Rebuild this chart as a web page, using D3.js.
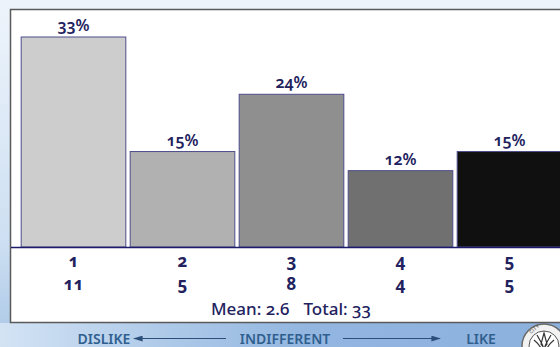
<!DOCTYPE html>
<html>
<head>
<meta charset="utf-8">
<script src="https://cdn.jsdelivr.net/npm/d3@7"></script>
<style>
  html, body { margin: 0; padding: 0; background: #ffffff; }
  svg { display: block; }
  .num { font-family: "Noto Sans", "Open Sans", sans-serif; font-variant-numeric: oldstyle-nums; font-feature-settings: "onum" 1; }
</style>
</head>
<body>
<svg id="chart" width="560" height="347"></svg>
<script>
// Survey ratings, 1 = dislike ... 5 = like
const categories = ["1", "2", "3", "4", "5"];
const counts = [11, 5, 8, 4, 5];
const percents = [33, 15, 24, 12, 15];
const barColors = ["#cdcdcd", "#b1b1b1", "#8f8f8f", "#707070", "#101010"];
const meanText = "Mean: 2.6";
const totalText = "Total: 33";
const scaleLabels = ["DISLIKE", "INDIFFERENT", "LIKE"];

const svg = d3.select("#chart");
const W = 560, H = 347;
const navy = "#22225e";

const defs = svg.append("defs");

// page background: pale sky at the top deepening to blue at the bottom
const bg = defs.append("linearGradient").attr("id", "bg")
  .attr("x1", 0).attr("y1", 0).attr("x2", 0).attr("y2", 1);
bg.append("stop").attr("offset", "0%").attr("stop-color", "#eef4fb");
bg.append("stop").attr("offset", "70%").attr("stop-color", "#cddff2");
bg.append("stop").attr("offset", "100%").attr("stop-color", "#a9c6e6");
svg.append("rect").attr("width", W).attr("height", H).attr("fill", "url(#bg)");

// footer band
const band = defs.append("linearGradient").attr("id", "band")
  .attr("x1", 0).attr("y1", 0).attr("x2", 1).attr("y2", 0);
band.append("stop").attr("offset", "0%").attr("stop-color", "#d3e3f4");
band.append("stop").attr("offset", "25%").attr("stop-color", "#b3cdea");
band.append("stop").attr("offset", "55%").attr("stop-color", "#92b6e0");
band.append("stop").attr("offset", "100%").attr("stop-color", "#8cb1dd");
svg.append("rect").attr("x", 0).attr("y", 323).attr("width", W).attr("height", H - 323)
  .attr("fill", "url(#band)");

// white panel holding the chart
svg.append("rect")
  .attr("x", 10.5).attr("y", 9.5).attr("width", W).attr("height", 313)
  .attr("fill", "#ffffff").attr("stroke", "#5a5a5a").attr("stroke-width", 1.5);

// scales
const x = d3.scaleBand().domain(categories).range([19, 564]).paddingInner(0.04).paddingOuter(0.02);
const baseY = 247;
const y = d3.scaleLinear().domain([0, 33]).range([baseY, 37]);

// bars
svg.append("g").selectAll("rect").data(categories).join("rect")
  .attr("x", d => x(d))
  .attr("y", (d, i) => y(percents[i]))
  .attr("width", x.bandwidth())
  .attr("height", (d, i) => baseY - y(percents[i]))
  .attr("fill", (d, i) => barColors[i])
  .attr("stroke", "#4d4d8c").attr("stroke-width", 1);

// value labels above bars
svg.append("g").selectAll("text").data(categories).join("text")
  .attr("class", "num")
  .attr("x", d => x(d) + x.bandwidth() / 2)
  .attr("y", (d, i) => y(percents[i]) - 6)
  .attr("text-anchor", "middle")
  .attr("font-size", 16).attr("font-weight", 600).attr("fill", navy)
  .text((d, i) => percents[i] + "%");

// baseline
svg.append("line").attr("x1", 11).attr("x2", W).attr("y1", baseY + 0.5).attr("y2", baseY + 0.5)
  .attr("stroke", "#1c1c6a").attr("stroke-width", 1.6);

// category and count rows
const xAxis = d3.axisBottom(x).tickSize(0).tickPadding(8);
const ax = svg.append("g").attr("transform", `translate(0,${baseY})`).call(xAxis);
ax.select(".domain").remove();
ax.selectAll("text").attr("class", "num").attr("font-size", 17).attr("fill", navy)
  .attr("font-weight", "bold");

svg.append("g").selectAll("text").data(categories).join("text")
  .attr("class", "num")
  .attr("x", d => x(d) + x.bandwidth() / 2)
  .attr("y", 290)
  .attr("text-anchor", "middle")
  .attr("font-size", 17).attr("font-weight", "bold").attr("fill", navy)
  .text((d, i) => counts[i]);

// summary line
const summary = svg.append("text").attr("class", "num")
  .attr("x", 291).attr("y", 315).attr("text-anchor", "middle")
  .attr("font-size", 17).attr("font-weight", 500).attr("fill", navy);
summary.append("tspan").text(meanText);
summary.append("tspan").attr("dx", 14).text(totalText);

// like / dislike scale in the footer
const footColor = "#2f5f8f";
const foot = svg.append("g").attr("font-family", "'Noto Sans', sans-serif")
  .attr("font-size", 14).attr("font-weight", 600).attr("fill", footColor);
foot.append("text").attr("x", 104).attr("y", 344).attr("text-anchor", "middle").text(scaleLabels[0]);
foot.append("text").attr("x", 285).attr("y", 344).attr("text-anchor", "middle").text(scaleLabels[1]);
foot.append("text").attr("x", 481).attr("y", 344).attr("text-anchor", "middle").text(scaleLabels[2]);

const mk = defs.append("marker").attr("id", "arr").attr("viewBox", "0 0 10 6")
  .attr("refX", 9).attr("refY", 3).attr("markerWidth", 8).attr("markerHeight", 5)
  .attr("orient", "auto");
mk.append("path").attr("d", "M0,0 L10,3 L0,6 Z").attr("fill", "#2c4f7a");
svg.append("line").attr("x1", 226).attr("x2", 134).attr("y1", 338.5).attr("y2", 338.5)
  .attr("stroke", "#2c4f7a").attr("stroke-width", 1.2).attr("marker-end", "url(#arr)");
svg.append("line").attr("x1", 343).attr("x2", 440).attr("y1", 338.5).attr("y2", 338.5)
  .attr("stroke", "#2c4f7a").attr("stroke-width", 1.2).attr("marker-end", "url(#arr)");

// seal in the corner
const seal = svg.append("g").attr("transform", "translate(544,346)");
seal.append("circle").attr("r", 22).attr("fill", "#f2f2f2").attr("stroke", "#6a6a6a").attr("stroke-width", 1.5);
seal.append("circle").attr("r", 15).attr("fill", "#ffffff").attr("stroke", "#555").attr("stroke-width", 1);
seal.append("path").attr("d", "M0,-13 L3,-2 L0,2 L-3,-2 Z M-10,-6 Q-5,-2 -2,4 M10,-6 Q5,-2 2,4 M-7,-11 Q-3,-4 -1,0 M7,-11 Q3,-4 1,0")
  .attr("fill", "none").attr("stroke", "#333").attr("stroke-width", 1.2);
seal.append("text").attr("x", -13).attr("y", -12).attr("font-size", 5).attr("fill", "#444")
  .attr("transform", "rotate(-40,-13,-12)").attr("font-family", "sans-serif").text("CITY");
</script>
</body>
</html>
